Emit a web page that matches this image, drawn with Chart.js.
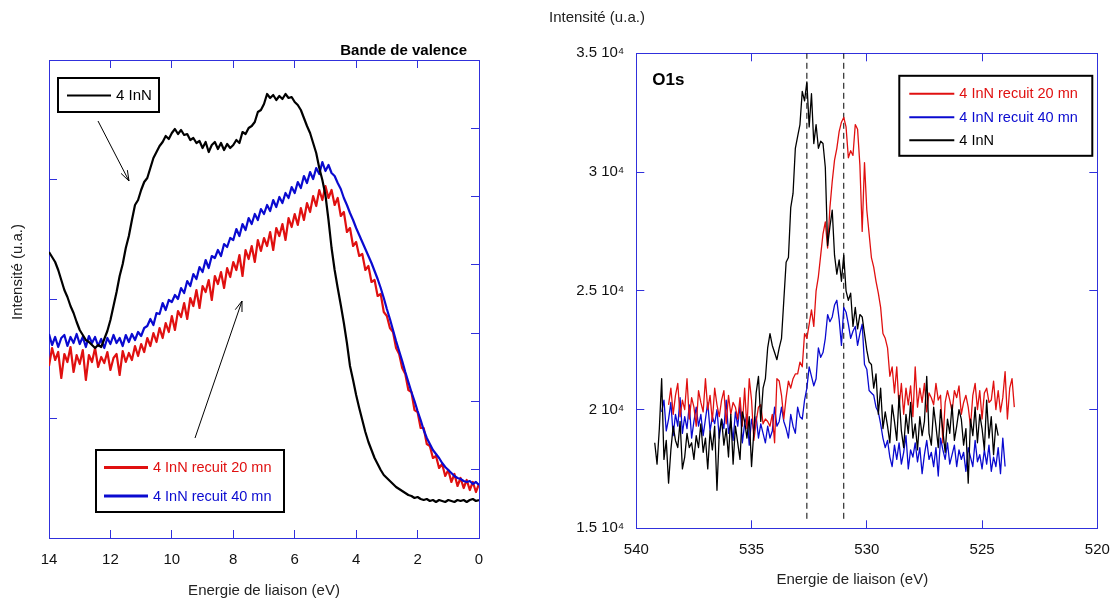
<!DOCTYPE html>
<html><head><meta charset="utf-8">
<script src="https://cdn.jsdelivr.net/npm/chart.js@4.4.1/dist/chart.umd.min.js"></script>
<style>
html,body{margin:0;padding:0;background:#fff;width:1116px;height:601px;overflow:hidden;position:relative}
#wrapL{position:absolute;left:0;top:0;width:530px;height:601px}
#wrapR{position:absolute;left:530px;top:0;width:620px;height:601px}
canvas{display:block}
</style></head><body>
<div id="wrapL"><canvas id="cL" width="530" height="601"></canvas></div>
<div id="wrapR"><canvas id="cR" width="620" height="601"></canvas></div>
<script>
// ---------------- Valence band (left panel) ----------------
const vbEnergy = [14.0,13.9,13.8,13.7,13.6,13.5,13.4,13.3,13.2,13.1,
 13.0,12.9,12.8,12.7,12.6,12.5,12.4,12.3,12.2,12.1,
 12.0,11.9,11.8,11.7,11.6,11.5,11.4,11.3,11.2,11.1,
 11.0,10.9,10.8,10.7,10.6,10.5,10.4,10.3,10.2,10.1,
 10.0,9.9,9.8,9.7,9.6,9.5,9.4,9.3,9.2,9.1,
 9.0,8.9,8.8,8.7,8.6,8.5,8.4,8.3,8.2,8.1,
 8.0,7.9,7.8,7.7,7.6,7.5,7.4,7.3,7.2,7.1,
 7.0,6.9,6.8,6.7,6.6,6.5,6.4,6.3,6.2,6.1,
 6.0,5.9,5.8,5.7,5.6,5.5,5.4,5.3,5.2,5.1,
 5.0,4.9,4.8,4.7,4.6,4.5,4.4,4.3,4.2,4.1,
 4.0,3.9,3.8,3.7,3.6,3.5,3.4,3.3,3.2,3.1,
 3.0,2.9,2.8,2.7,2.6,2.5,2.4,2.3,2.2,2.1,
 2.0,1.9,1.8,1.7,1.6,1.5,1.4,1.3,1.2,1.1,
 1.0,0.9,0.8,0.7,0.6,0.5,0.4,0.3,0.2,0.1,
 0.0];
const vbInN = [286,281,276,268,258,248,241,232,225,216,
 208,203,198,196,193,190,193,191,199,207,
 218,232,246,262,274,290,302,318,333,338,
 348,356,360,370,380,386,392,396,402,399,
 405,409,404,408,403,404,398,400,395,397,
 390,396,386,393,396,389,395,388,394,390,
 393,398,395,406,404,410,412,416,426,428,
 434,444,440,443,438,442,439,444,440,441,
 436,433,428,420,412,405,395,385,370,358,
 343,318,290,268,250,233,215,195,172,158,
 143,130,118,106,96,88,80,74,68,63,
 60,57,54,51,49,47,45,43,42,40,
 41,39,38,39,37,38,36,38,37,36,
 38,37,36,38,37,38,36,38,39,37,
 38];
const vbRecuit40 = [204,193,201,191,200,203,192,201,195,204,
 194,201,191,202,195,201,192,199,190,200,
 194,203,195,200,192,203,196,204,198,206,
 202,210,212,219,213,225,224,235,228,238,
 236,243,239,250,245,257,252,264,259,271,
 266,278,270,282,280,288,282,294,291,300,
 298,309,302,314,308,320,314,324,318,329,
 324,333,327,338,331,341,335,345,340,351,
 345,356,350,362,355,366,359,370,364,376,
 367,373,365,362,355,349,340,333,325,318,
 310,303,296,289,282,275,267,259,250,240,
 229,219,208,197,187,177,166,156,146,137,
 127,118,108,100,94,88,84,80,75,71,
 68,65,62,60,59,57,56,57,54,56,
 53];
const vbRecuit20 = [172,190,178,186,160,184,176,191,166,183,
 174,188,158,183,176,190,171,181,175,186,
 168,180,184,163,187,176,185,178,192,182,
 194,186,200,192,205,196,210,200,215,206,
 222,208,227,221,235,219,240,232,248,230,
 252,246,258,238,262,254,266,250,270,261,
 276,268,283,262,288,279,292,276,298,287,
 300,292,306,288,310,302,314,298,320,311,
 324,313,330,318,335,326,342,332,348,338,
 352,340,348,333,340,322,326,306,310,292,
 296,282,284,268,272,256,258,242,244,226,
 222,210,206,190,184,170,164,148,146,128,
 126,110,110,94,92,80,82,70,74,62,
 68,56,64,52,60,50,58,48,56,46,
 54];
const vbXTicks = [0,2,4,6,8,10,12,14];
const vbXTickLabels = ['0','2','4','6','8','10','12','14'];

// ---------------- O1s (right panel) ----------------
const o1sEnergy = [539.2,539.1,539.0,538.9,538.8,538.7,538.6,538.5,538.4,538.3,
 538.2,538.1,538.0,537.9,537.8,537.7,537.6,537.5,537.4,537.3,
 537.2,537.1,537.0,536.9,536.8,536.7,536.6,536.5,536.4,536.3,
 536.2,536.1,536.0,535.9,535.8,535.7,535.6,535.5,535.4,535.3,
 535.2,535.1,535.0,534.9,534.8,534.7,534.6,534.5,534.4,534.3,
 534.2,534.1,534.0,533.9,533.8,533.7,533.6,533.5,533.4,533.3,
 533.2,533.1,533.0,532.9,532.8,532.7,532.6,532.5,532.4,532.3,
 532.2,532.1,532.0,531.9,531.8,531.7,531.6,531.5,531.4,531.3,
 531.2,531.1,531.0,530.9,530.8,530.7,530.6,530.5,530.4,530.3,
 530.2,530.1,530.0,529.9,529.8,529.7,529.6,529.5,529.4,529.3,
 529.2,529.1,529.0,528.9,528.8,528.7,528.6,528.5,528.4,528.3,
 528.2,528.1,528.0,527.9,527.8,527.7,527.6,527.5,527.4,527.3,
 527.2,527.1,527.0,526.9,526.8,526.7,526.6,526.5,526.4,526.3,
 526.2,526.1,526.0,525.9,525.8,525.7,525.6,525.5,525.4,525.3,
 525.2,525.1,525.0,524.9,524.8,524.7,524.6,524.5,524.4,524.3,
 524.2,524.1,524.0,523.9,523.8,523.7,523.6];
const o1sInN = [18600,17700,19200,21300,17900,18700,16900,18300,19300,18700,
 18400,19500,17500,18000,19000,18400,18600,17900,18900,18400,
 19400,18200,18800,17500,19100,18300,19300,16600,19000,19600,
 18500,19200,18000,19800,17700,19300,18600,17900,19900,19500,
 18800,19700,17600,19100,20700,21400,19500,20900,21300,22600,
 23200,22700,22400,22100,22600,23000,24600,26200,26400,28500,
 29100,31000,31500,32000,33400,33000,33800,31900,33300,31200,
 32000,31000,31300,31200,30200,26900,27700,28400,26500,25700,
 26300,25400,26500,25000,24600,24900,23500,24300,23400,24000,
 23900,23200,22500,22000,21900,20900,21500,19800,20900,19200,
 19900,19300,18600,20200,19500,18700,20600,19100,18400,19800,
 19000,20300,18800,19400,18300,19700,18900,19500,21400,19000,
 18500,20100,19300,18400,20000,19100,18200,19600,19000,20200,
 18700,19300,20000,19600,18500,19200,16900,19600,18900,20100,
 18600,19800,19200,18300,20400,18800,19700,18100,19400,18900,
 null,null,null,null,null,null,null];
const o1sRecuit20 = [null,null,null,null,null,null,
 20200,20900,19800,20600,21100,19700,20400,20000,21300,19600,
 20500,20100,19300,20800,20300,19900,21300,20000,20600,19500,
 20900,20200,19700,20400,20800,19400,20600,19800,20300,20100,
 19600,20500,19300,20900,19200,21300,20400,18700,19500,20100,
 20200,19400,19600,19500,19300,19800,18600,21300,21200,20600,
 19600,20500,21200,20900,21300,21500,21500,22000,21800,23200,
 23000,23600,24200,23500,25000,25600,26500,27400,27900,26800,
 28500,29600,30500,31000,31700,32100,32300,31900,30600,30900,
 30700,32000,31800,30300,27500,30400,28400,27400,26400,26000,
 25400,24900,24300,23200,23000,22600,21400,21800,20700,21800,
 20100,21100,19800,20900,20200,21000,19700,21800,20100,20900,
 20300,21100,19900,20700,20500,20200,21100,20400,20600,18600,
 20300,20800,20400,19900,20800,20500,21000,19800,20300,20600,
 20100,19300,20600,21100,20000,20800,19600,20700,20900,20300,
 20400,21200,20000,20800,19900,20500,21600,19600,20900,21300,
 20100];
const o1sRecuit40 = [null,null,null,
 19900,20400,19100,19600,20300,18900,19800,19300,20500,19000,
 19700,19200,20200,18800,19500,20100,19300,19800,18900,19600,
 20300,19100,19700,19400,20000,18800,19600,19200,20400,19000,
 19500,18700,19900,19300,20200,18600,19400,19800,18500,19600,
 19100,19700,18800,19400,19000,18600,19300,18800,19100,20100,
 19300,19500,20100,19500,19200,18800,19800,19300,19000,20100,
 19700,19600,20400,20900,21800,21400,21000,21300,22600,22200,
 22400,23000,24000,23700,23900,24400,24600,23800,22700,24300,
 24100,23600,23000,23300,23500,22700,23200,23600,21900,21700,
 20800,20700,20600,20100,19900,19400,18800,18400,18700,18000,
 17600,18500,17900,18600,17700,18200,18900,17500,18300,18000,
 18600,17800,18400,17300,18100,18700,17900,18200,17600,18400,
 17200,18800,18300,17900,18600,17700,18100,18500,17600,18300,
 17900,18200,17400,18400,18000,17600,18700,17800,18100,17500,
 18300,17700,18500,17400,18000,17600,18400,17300,18800,17600,
 null,null,null,null];
const o1sMarkers = [532.6, 531.0];
const o1sMarkerSpan = [15400, 35000];
const o1sXTicks = [520,525,530,535,540];
const o1sXTickLabels = ['520','525','530','535','540'];
const o1sYTicks = [15000,20000,25000,30000,35000];
const o1sYTickLabels = ['1.5 10\u2074','2 10\u2074','2.5 10\u2074','3 10\u2074','3.5 10\u2074'];

// ---------------- styling ----------------
const FONT = '"Liberation Sans", Arial, Helvetica, sans-serif';
const AX = '#3030dc';
const RED = '#e01010';
const BLUE = '#0a0ad0';
const TL = -8;

function pairs(xs, ys){ return xs.map((x,i)=>({x:x, y:ys[i]})); }
function labelFrom(ticks, labels){ return v => { const i = ticks.indexOf(v); return i < 0 ? '' : labels[i]; }; }
function gridOpts(){ return {drawOnChartArea:false, drawTicks:true, tickLength:TL, color:AX, lineWidth:1}; }
function borderOpts(){ return {color:AX, width:1}; }

function arrow(c, x1, y1, x2, y2){
  c.beginPath(); c.moveTo(x1,y1); c.lineTo(x2,y2); c.stroke();
  const a = Math.atan2(y2-y1, x2-x1), L = 11, w = 0.33;
  c.beginPath();
  c.moveTo(x2 - L*Math.cos(a-w), y2 - L*Math.sin(a-w));
  c.lineTo(x2, y2);
  c.lineTo(x2 - L*Math.cos(a+w), y2 - L*Math.sin(a+w));
  c.stroke();
}
function legendRow(c, x1, x2, y, color, lw, text, tcolor, font){
  c.strokeStyle = color; c.lineWidth = lw;
  c.beginPath(); c.moveTo(x1,y); c.lineTo(x2,y); c.stroke();
  c.fillStyle = tcolor; c.font = font; c.textAlign='left'; c.textBaseline='middle';
  c.fillText(text, x2 + 5, y + 0.5);
}

const vbDecor = {
  id:'vbDecor',
  afterDraw(chart){
    const c = chart.ctx, A = chart.chartArea;
    c.save();
    c.fillStyle = '#000'; c.font = 'bold 15px ' + FONT; c.textAlign='right'; c.textBaseline='middle';
    c.fillText('Bande de valence', A.right - 12, A.top - 9);
    c.fillStyle = '#222'; c.font = '15px ' + FONT; c.textAlign='center';
    c.fillText('Energie de liaison (eV)', (A.left + A.right)/2, 591);
    c.save(); c.translate(18, 272); c.rotate(-Math.PI/2);
    c.fillText('Intensit\u00e9 (u.a.)', 0, 0); c.restore();
    // legend 1
    c.fillStyle='#fff'; c.fillRect(A.left+9, A.top+18, 101, 34);
    c.strokeStyle='#000'; c.lineWidth=2; c.strokeRect(A.left+9, A.top+18, 101, 34);
    legendRow(c, A.left+18, A.left+62, A.top+35.5, '#000', 2, '4 InN', '#000', '15px ' + FONT);
    // legend 2
    c.fillStyle='#fff'; c.fillRect(A.left+47, A.top+390, 188, 62);
    c.strokeStyle='#000'; c.lineWidth=2; c.strokeRect(A.left+47, A.top+390, 188, 62);
    legendRow(c, A.left+55, A.left+99, A.top+407.5, RED, 3, '4 InN recuit 20 mn', RED, '14.5px ' + FONT);
    legendRow(c, A.left+55, A.left+99, A.top+436, BLUE, 3, '4 InN recuit 40 mn', BLUE, '14.5px ' + FONT);
    // arrows
    c.strokeStyle='#000'; c.lineWidth=1;
    arrow(c, A.left+49, A.top+61, A.left+80, A.top+121);
    arrow(c, A.left+146, A.top+378, A.left+193, A.top+241);
    c.restore();
  }
};

const o1sDecor = {
  id:'o1sDecor',
  afterDraw(chart){
    const c = chart.ctx, A = chart.chartArea;
    c.save();
    c.fillStyle = '#222'; c.font = '15px ' + FONT; c.textAlign='left'; c.textBaseline='middle';
    c.fillText('Intensit\u00e9 (u.a.)', 19, 18);
    c.textAlign='center';
    c.fillText('Energie de liaison (eV)', A.left + 216, 580);
    c.fillStyle = '#000'; c.font = 'bold 17px ' + FONT; c.textAlign='left';
    c.fillText('O1s', A.left + 16, A.top + 27);
    // legend
    const bx = A.left + 263, by = A.top + 22.5, bw = 193, bh = 80;
    c.fillStyle='#fff'; c.fillRect(bx, by, bw, bh);
    c.strokeStyle='#000'; c.lineWidth=2; c.strokeRect(bx, by, bw, bh);
    const f = '14.5px ' + FONT;
    legendRow(c, bx+10, bx+55, by+18, RED, 2, '4 InN recuit 20 mn', RED, f);
    legendRow(c, bx+10, bx+55, by+41.5, BLUE, 2, '4 InN recuit 40 mn', BLUE, f);
    legendRow(c, bx+10, bx+55, by+64.5, '#000', 2, '4 InN', '#000', f);
    c.restore();
  }
};

const common = {
  responsive:false, animation:false, devicePixelRatio:1,
  elements:{point:{radius:0}, line:{tension:0, borderJoinStyle:'round', fill:false}},
  plugins:{legend:{display:false}, tooltip:{enabled:false}, title:{display:false}}
};

new Chart(document.getElementById('cL'), {
  type:'line',
  data:{datasets:[
    {label:'4 InN', data:pairs(vbEnergy, vbInN), borderColor:'#000', borderWidth:2.2, order:1},
    {label:'4 InN recuit 40 mn', data:pairs(vbEnergy, vbRecuit40), borderColor:BLUE, borderWidth:2.2, order:2},
    {label:'4 InN recuit 20 mn', data:pairs(vbEnergy, vbRecuit20), borderColor:RED, borderWidth:2.2, order:3}
  ]},
  options:Object.assign({}, common, {
    layout:{padding:{top:60, left:0, right:0, bottom:0}},
    scales:{
      x:{type:'linear', position:'bottom', reverse:true, min:0, max:14, afterFit:s=>{s.height=63;},
         ticks:{stepSize:2, autoSkip:false, maxRotation:0, padding:21, color:'#111', font:{family:FONT, size:15},
                callback:labelFrom(vbXTicks, vbXTickLabels)},
         grid:gridOpts(), border:borderOpts()},
      x2:{type:'linear', position:'top', reverse:true, min:0, max:14, afterFit:s=>{s.height=0;},
         ticks:{display:false, stepSize:2}, grid:gridOpts(), border:borderOpts()},
      y:{type:'linear', position:'left', min:0, max:478, afterFit:s=>{s.width=49;},
         ticks:{display:false, stepSize:119.5}, grid:gridOpts(), border:borderOpts()},
      y2:{type:'linear', position:'right', min:0, max:7, afterFit:s=>{s.width=51;},
         ticks:{display:false, stepSize:1}, grid:gridOpts(), border:borderOpts()}
    }
  }),
  plugins:[vbDecor]
});

new Chart(document.getElementById('cR'), {
  type:'line',
  data:{datasets:[
    {label:'4 InN', data:pairs(o1sEnergy, o1sInN), borderColor:'#000', borderWidth:1.3, order:1},
    {label:'4 InN recuit 20 mn', data:pairs(o1sEnergy, o1sRecuit20), borderColor:RED, borderWidth:1.3, order:2},
    {label:'4 InN recuit 40 mn', data:pairs(o1sEnergy, o1sRecuit40), borderColor:BLUE, borderWidth:1.3, order:3},
    {label:'m1', data:[{x:o1sMarkers[0], y:o1sMarkerSpan[0]},{x:o1sMarkers[0], y:o1sMarkerSpan[1]}], borderColor:'#000', borderWidth:1, borderDash:[6,4], order:4},
    {label:'m2', data:[{x:o1sMarkers[1], y:o1sMarkerSpan[0]},{x:o1sMarkers[1], y:o1sMarkerSpan[1]}], borderColor:'#000', borderWidth:1, borderDash:[6,4], order:4}
  ]},
  options:Object.assign({}, common, {
    layout:{padding:{top:53.3, left:0, right:0, bottom:0}},
    scales:{
      x:{type:'linear', position:'bottom', reverse:true, min:520, max:540, afterFit:s=>{s.height=72.7;},
         ticks:{stepSize:5, autoSkip:false, maxRotation:0, padding:21, color:'#111', font:{family:FONT, size:15},
                callback:labelFrom(o1sXTicks, o1sXTickLabels)},
         grid:gridOpts(), border:borderOpts()},
      x2:{type:'linear', position:'top', reverse:true, min:520, max:540, afterFit:s=>{s.height=0;},
         ticks:{display:false, stepSize:5}, grid:gridOpts(), border:borderOpts()},
      y:{type:'linear', position:'left', min:15000, max:35000, afterFit:s=>{s.width=106.3;},
         ticks:{stepSize:5000, padding:20, color:'#111', font:{family:FONT, size:15},
                callback:labelFrom(o1sYTicks, o1sYTickLabels)},
         grid:gridOpts(), border:borderOpts()},
      y2:{type:'linear', position:'right', min:15000, max:35000, afterFit:s=>{s.width=52.7;},
         ticks:{display:false, stepSize:5000}, grid:gridOpts(), border:borderOpts()}
    }
  }),
  plugins:[o1sDecor]
});
</script>
</body></html>
